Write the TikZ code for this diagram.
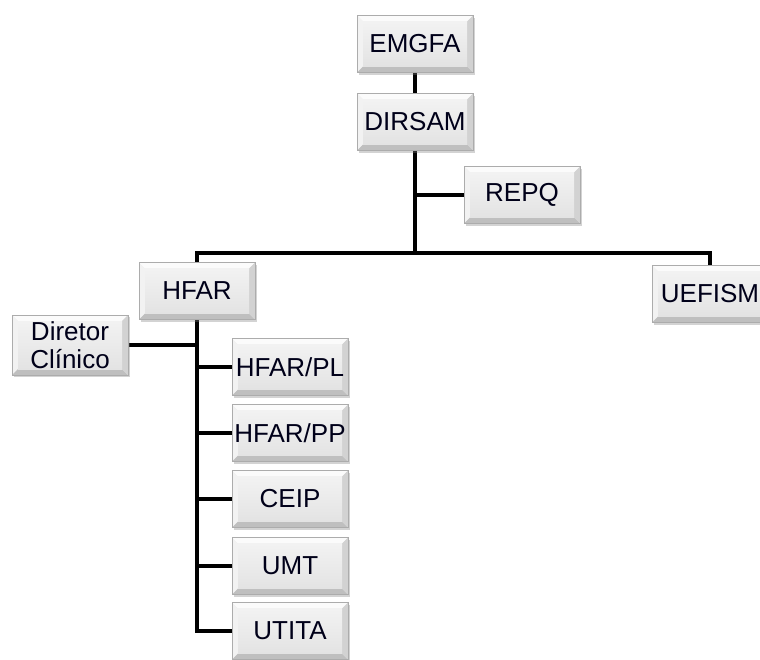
\documentclass[tikz,border=0pt]{standalone}
\usepackage{fontspec}
\setmainfont{Liberation Sans}
\usetikzlibrary{shadows,backgrounds}
\tikzset{
  bx/.style={rectangle, minimum width=116pt, minimum height=57pt, inner sep=0pt,
    draw=gray!65, line width=0.6pt, fill=gray!20, align=center,
    font=\fontsize{26}{28}\selectfont, text=black!90!blue,
    drop shadow={shadow xshift=2pt, shadow yshift=-2pt, opacity=0.35, fill=gray},
    path picture={
      \path (path picture bounding box.north west) coordinate (bvA)
            (path picture bounding box.north east) coordinate (bvB)
            (path picture bounding box.south east) coordinate (bvC)
            (path picture bounding box.south west) coordinate (bvD);
      \path ([shift={(6pt,-6pt)}]bvA) coordinate (bvA2)
            ([shift={(-6pt,-6pt)}]bvB) coordinate (bvB2)
            ([shift={(-6pt,6pt)}]bvC) coordinate (bvC2)
            ([shift={(6pt,6pt)}]bvD) coordinate (bvD2);
      \fill[gray!3] (bvA) -- (bvB) -- (bvB2) -- (bvA2) -- cycle;
      \fill[gray!10] (bvA) -- (bvA2) -- (bvD2) -- (bvD) -- cycle;
      \fill[gray!50] (bvD) -- (bvD2) -- (bvC2) -- (bvC) -- cycle;
      \fill[gray!35] (bvB) -- (bvC) -- (bvC2) -- (bvB2) -- cycle;
      \shade[top color=gray!10, bottom color=gray!22] (bvA2) rectangle (bvC2);
    }},
  conn/.style={draw=black, line width=3.2pt}
}
\begin{document}
\begin{tikzpicture}[x=1pt,y=-1pt]
\useasboundingbox (0,0) rectangle (760,659);
\clip (0,0) rectangle (760,659);
\node[bx] (emgfa) at (415,44) {EMGFA};
\node[bx] (dirsam) at (415,122) {DIRSAM};
\node[bx] (repq) at (522,195) {REPQ};
\node[bx] (hfar) at (197,291) {HFAR};
\node[bx] (uefism) at (710,294) {UEFISM};
\node[bx, minimum height=60pt] (dir) at (70,345) {Diretor\\Clínico};
\node[bx] (hfarpl) at (290,367) {HFAR/PL};
\node[bx] (hfarpp) at (290,433) {HFAR/PP};
\node[bx] (ceip) at (290,499) {CEIP};
\node[bx] (umt) at (290,566) {UMT};
\node[bx] (utita) at (290,631) {UTITA};
\coordinate (j1) at (415,195);
\coordinate (bus) at (415,253);
\coordinate (tb) at (197,631);
\begin{scope}[on background layer]
\draw[conn] (emgfa) -- (dirsam);
\draw[conn] (dirsam) -- (bus);
\draw[conn] (j1) -- (repq);
\draw[conn] (hfar.north) |- (bus) -| (uefism.north);
\draw[conn] (hfar.south) -- (tb) -- (utita.west);
\draw[conn] (dir.east) -- (dir.east -| hfar.south);
\draw[conn] (hfarpl.west) -- (hfarpl.west -| hfar.south);
\draw[conn] (hfarpp.west) -- (hfarpp.west -| hfar.south);
\draw[conn] (ceip.west) -- (ceip.west -| hfar.south);
\draw[conn] (umt.west) -- (umt.west -| hfar.south);
\end{scope}
\end{tikzpicture}
\end{document}
